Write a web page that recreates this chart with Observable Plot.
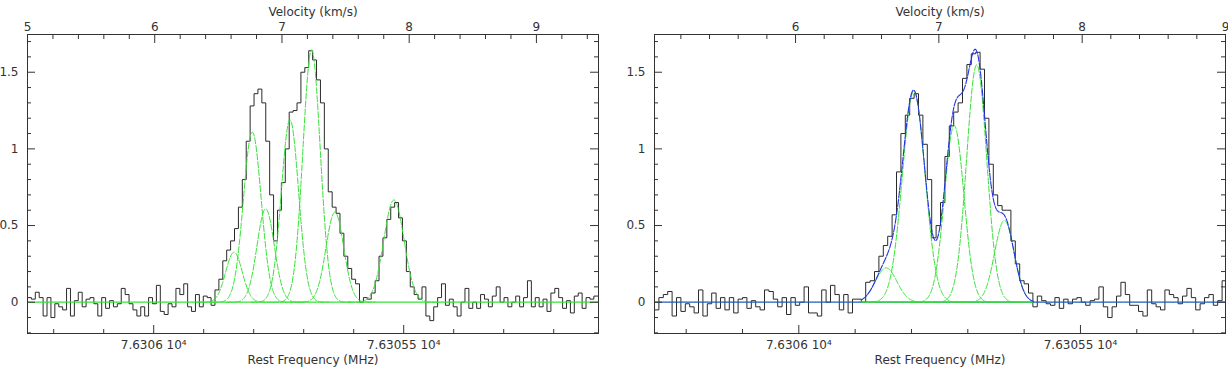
<!DOCTYPE html>
<html><head><meta charset="utf-8">
<script src="https://cdn.jsdelivr.net/npm/d3@7"></script>
<script src="https://cdn.jsdelivr.net/npm/@observablehq/plot@0.6"></script>
<style>
body{margin:0;background:#fff;}
#wrap{display:flex;width:1228px;height:370px;overflow:hidden;}
#wrap svg{display:block;flex:none;}
</style></head><body><div id="wrap"></div>
<script>
// ---------- data ----------
const chanWidth = 0.0307;            // km/s per channel
const leftStartVel = 5.0;            // velocity of first channel edge (left panel)
const rightStartVel = 5.016;         // velocity of first channel edge (right panel)

const leftSpectrum = [
 0.03, 0.02, 0.065, 0.03, -0.09, 0.03, -0.10, -0.01, -0.03, -0.05,
 0.09, -0.09, 0.01, 0.065, -0.03, 0.02, 0.03, -0.01, -0.09, 0.03,
 -0.04, 0.01, -0.03, -0.01, 0.09, 0.05, -0.01, -0.05, -0.09, -0.03,
 -0.09, 0.03, -0.01, 0.11, -0.06, -0.08, -0.01, -0.03, 0.09, 0.05,
 0.12, -0.03, -0.06, 0.05, -0.03, 0.04, 0.03, -0.02,
 0.08, 0.15, 0.27, 0.34, 0.40, 0.48, 0.62, 0.80, 1.05, 1.28,
 1.36, 1.39, 1.30, 1.05, 0.70, 0.40, 0.60, 0.78, 1.00, 1.24,
 1.25, 1.30, 1.50, 1.53, 1.64,
 1.58, 1.45, 1.30, 1.00, 0.72, 0.62, 0.58, 0.45, 0.30, 0.22,
 0.15, 0.12, 0.00, 0.03, 0.02, 0.06, 0.14, 0.30, 0.42, 0.54,
 0.62, 0.65, 0.55, 0.40, 0.20, 0.10, 0.05, 0.02, 0.10, -0.09,
 -0.12, -0.03, 0.03, 0.12, -0.02, 0.02, -0.03, -0.09, 0.00, 0.09,
 -0.04, 0.00, -0.04, 0.05, 0.02, -0.03, 0.04, 0.10, 0.00, 0.03,
 -0.03, 0.00, 0.04, -0.03, 0.03, 0.14, -0.03, 0.03, -0.03, 0.02,
 -0.06, 0.06, 0.09, 0.03, -0.04, 0.01, -0.07, 0.04, 0.06, -0.04,
 0.03, 0.02, 0.04
];

const rightSpectrum = [
 -0.05, 0.03, 0.05, 0.07, -0.09, 0.03, -0.06, -0.01, -0.03, -0.07,
 0.08, -0.09, -0.01, 0.06, -0.04, 0.03, -0.05, 0.03, -0.07, 0.02,
 0.03, -0.04, 0.01, -0.03, -0.05, 0.08, 0.07, 0.02, -0.03, 0.03,
 -0.08, 0.03, -0.02, 0.00, 0.10, -0.07, -0.07, -0.09, 0.08, 0.00,
 0.11, 0.05, -0.05, 0.05, -0.07, 0.02, 0.02, 0.00,
 0.13, 0.14, 0.20, 0.30, 0.37, 0.43, 0.57, 0.85, 1.10, 1.22,
 1.33, 1.36, 1.22, 1.03, 0.80, 0.42,
 0.50, 0.65, 0.95, 1.15, 1.24, 1.30, 1.46, 1.55, 1.62, 1.63,
 1.52, 1.20, 0.90, 0.70, 0.63, 0.60, 0.60, 0.40, 0.25, 0.14,
 0.12, 0.06, -0.03, 0.04, 0.01, -0.01, -0.02, 0.03, -0.04, 0.02,
 -0.01, 0.02, 0.03, 0.00, -0.02, 0.01, 0.02, 0.10, -0.03, -0.10,
 -0.03, 0.04, 0.13, 0.05, -0.02, -0.02, -0.06, -0.09, 0.08, -0.01,
 -0.03, -0.05, 0.08, 0.05, 0.03, -0.01, 0.04, 0.09, 0.03, -0.05,
 -0.01, 0.03, 0.05, -0.02, 0.01, 0.14
];

// Gaussian components (velocity centre, peak, sigma)
const leftCenters = [6.623, 6.767, 6.872, 7.063, 7.233, 7.416, 7.880];
const leftAmps    = [0.326, 1.109, 0.609, 1.190, 1.645, 0.587, 0.667];
const leftSigmas  = [0.065, 0.070, 0.068, 0.068, 0.068, 0.070, 0.080];

const rightCenters = [6.632, 6.825, 7.107, 7.264, 7.457];
const rightAmps    = [0.224, 1.375, 1.152, 1.548, 0.533];
const rightSigmas  = [0.075, 0.079, 0.068, 0.070, 0.068];
const rightFitRange = [6.46, 7.66];

// axis ticks
const velMajor = [5, 6, 7, 8, 9];
const velMinor = [5.2,5.4,5.6,5.8,6.2,6.4,6.6,6.8,7.2,7.4,7.6,7.8,8.2,8.4,8.6,8.8,9.2,9.4];
const freqMajor = [76306, 76305.5];
const freqLabels = ["7.6306 10\u2074", "7.63055 10\u2074"];
const freqMinor = [76306.2,76306.1,76305.9,76305.8,76305.7,76305.6,76305.4,76305.3,76305.2,76305.1];
const yMajor = [0, 0.5, 1, 1.5];
const yLabels = ["0", "0.5", "1", "1.5"];
const yMinor = [-0.2,-0.1,0.1,0.2,0.3,0.4,0.6,0.7,0.8,0.9,1.1,1.2,1.3,1.4,1.6,1.7];

// velocity where 76306 MHz sits on each panel, and km/s per MHz
const leftFreqRefVel = 5.992, rightFreqRefVel = 6.023, velPerMHz = 3.93;

// ---------- drawing ----------
const axisColor = "#333";
const green = "#35e335";
const W = 614, H = 370, MT = 34, MB = 37;
const yDomain = [-0.204, 1.746];

function specRows(start, values) {
  const rows = values.map((v, i) => ({x: start + i * chanWidth, y: v}));
  rows.push({x: start + values.length * chanWidth, y: values[values.length - 1]});
  return rows;
}
function gaussRows(centers, amps, sigmas, lo, hi) {
  const rows = [];
  centers.forEach((c, j) => {
    const a = Math.max(lo, c - 4.5 * sigmas[j]), b = Math.min(hi, c + 4.5 * sigmas[j]);
    for (let x = a; x <= b + 1e-9; x += 0.003) rows.push({x, y: amps[j] * Math.exp(-((x - c) ** 2) / (2 * sigmas[j] ** 2)), comp: j});
  });
  return rows;
}
function totalRows(centers, amps, sigmas, lo, hi) {
  const rows = [];
  for (let x = lo; x <= hi + 1e-9; x += 0.003) {
    let s = 0;
    centers.forEach((c, j) => { s += amps[j] * Math.exp(-((x - c) ** 2) / (2 * sigmas[j] ** 2)); });
    rows.push({x, y: s});
  }
  return rows;
}

function panel(cfg) {
  const innerW = W - cfg.ml - cfg.mr, innerH = H - MT - MB;
  const [d0, d1] = cfg.domain;
  const inX = v => v >= d0 - 1e-6 && v <= d1 + 1e-6;
  const toVel = f => cfg.fRefVel + (76306 - f) * velPerMHz;
  const marks = [];
  marks.push(Plot.line(specRows(cfg.start, cfg.spec), {x: "x", y: "y", curve: "step-after", stroke: "#2a2a2a", strokeWidth: 1, clip: true}));
  marks.push(...cfg.fitMarks);
  // frame & ticks
  marks.push(Plot.frame({stroke: axisColor, strokeWidth: 1}));
  const tick = {stroke: axisColor, strokeWidth: 1};
  marks.push(Plot.tickX(velMinor.filter(inX), {x: d => d, ...tick, insetBottom: innerH - 5}));
  marks.push(Plot.tickX(velMajor.filter(inX), {x: d => d, ...tick, insetBottom: innerH - 9}));
  marks.push(Plot.tickX(freqMinor.map(toVel).filter(inX), {x: d => d, ...tick, insetTop: innerH - 4}));
  marks.push(Plot.tickX(freqMajor.map(toVel).filter(inX), {x: d => d, ...tick, insetTop: innerH - 8}));
  marks.push(Plot.tickY(yMinor, {y: d => d, ...tick, insetRight: innerW - 4}));
  marks.push(Plot.tickY(yMajor, {y: d => d, ...tick, insetRight: innerW - 8}));
  marks.push(Plot.tickY(yMinor, {y: d => d, ...tick, insetLeft: innerW - 4}));
  marks.push(Plot.tickY(yMajor, {y: d => d, ...tick, insetLeft: innerW - 8}));
  // labels
  const txt = {fill: axisColor};
  marks.push(Plot.text(velMajor.filter(inX), {x: d => d, text: d => String(d), frameAnchor: "top", dy: -12, ...txt}));
  marks.push(Plot.text(["Velocity (km/s)"], {text: d => d, frameAnchor: "top", dy: -27, ...txt}));
  const fl = freqMajor.map((f, i) => ({v: toVel(f), label: freqLabels[i]})).filter(d => inX(d.v));
  marks.push(Plot.text(fl, {x: "v", text: "label", frameAnchor: "bottom", dy: 15, ...txt}));
  marks.push(Plot.text(["Rest Frequency (MHz)"], {text: d => d, frameAnchor: "bottom", dy: 30, ...txt}));
  marks.push(Plot.text(yMajor, {y: d => d, text: (d, i) => yLabels[i], frameAnchor: "left", textAnchor: "end", dx: -9, ...txt}));
  return Plot.plot({
    width: W, height: H, marginTop: MT, marginBottom: MB, marginLeft: cfg.ml, marginRight: cfg.mr,
    x: {domain: cfg.domain, axis: null},
    y: {domain: yDomain, axis: null},
    style: {fontFamily: "'DejaVu Sans', sans-serif", fontSize: "12px", background: "white", overflow: "visible"},
    marks
  });
}

const leftDomain = [5, 9.488];
const leftFit = [
  Plot.ruleY([0], {stroke: green, strokeWidth: 1.3}),
  Plot.line(gaussRows(leftCenters, leftAmps, leftSigmas, leftDomain[0], leftDomain[1]),
    {x: "x", y: "y", z: "comp", stroke: green, strokeWidth: 1, strokeDasharray: "6,2"})
];
const rightDomain = [5.016, 9.0];
const rightFit = [
  Plot.ruleY([0], {stroke: "#1f5db5", strokeWidth: 1.3}),
  Plot.ruleY([0], {x1: rightFitRange[0], x2: rightFitRange[1], stroke: green, strokeWidth: 1.3}),
  Plot.line(gaussRows(rightCenters, rightAmps, rightSigmas, rightFitRange[0], rightFitRange[1]),
    {x: "x", y: "y", z: "comp", stroke: green, strokeWidth: 1, strokeDasharray: "6,2"}),
  Plot.line(totalRows(rightCenters, rightAmps, rightSigmas, rightFitRange[0], rightFitRange[1]),
    {x: "x", y: "y", stroke: "#2233e6", strokeWidth: 1.1, strokeDasharray: "7,1.5"})
];

const wrap = document.getElementById("wrap");
wrap.appendChild(panel({ml: 27, mr: 16, domain: leftDomain, start: leftStartVel, spec: leftSpectrum, fRefVel: leftFreqRefVel, fitMarks: leftFit}));
wrap.appendChild(panel({ml: 40, mr: 3, domain: rightDomain, start: rightStartVel, spec: rightSpectrum, fRefVel: rightFreqRefVel, fitMarks: rightFit}));
</script></body></html>
